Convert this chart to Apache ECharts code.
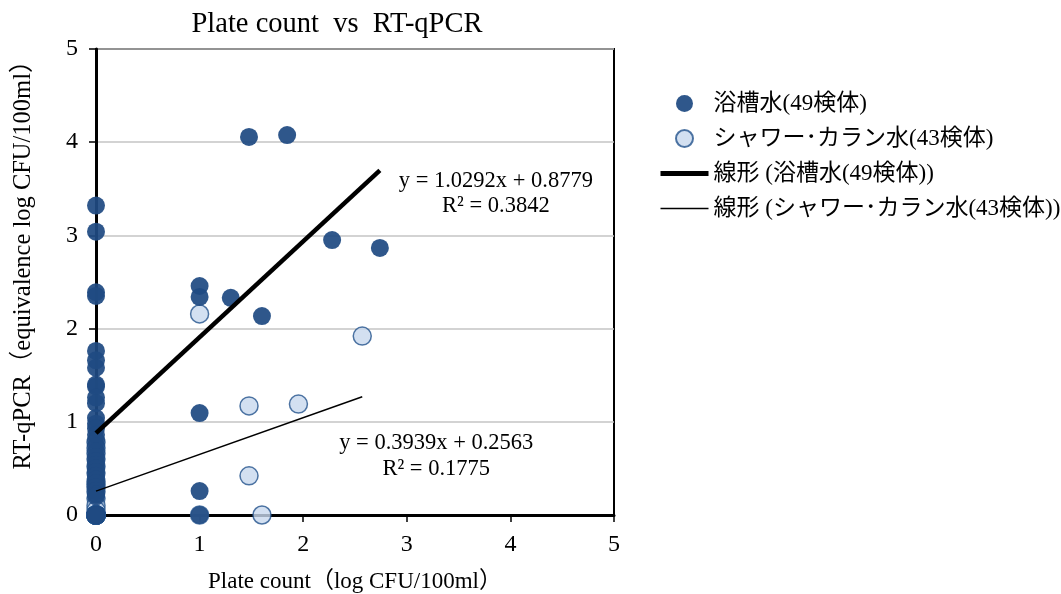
<!DOCTYPE html>
<html>
<head>
<meta charset="utf-8">
<script src="https://cdn.jsdelivr.net/npm/echarts@6/dist/echarts.min.js"></script>
<style>
  html, body { margin: 0; padding: 0; background: #fff; }
  #chart { width: 1061px; height: 594px; }
</style>
</head>
<body>
<div id="chart"></div>
<script>
// Bath water samples (浴槽水, 49): plate count (log CFU/100ml) vs RT-qPCR
const bathX = [1.477, 1.845, 2.279, 2.74, 1, 1, 1.301, 1.602, 1, 1, 1,
  0, 0, 0, 0, 0, 0, 0, 0, 0, 0, 0, 0, 0, 0, 0, 0, 0, 0, 0, 0,
  0, 0, 0, 0, 0, 0, 0, 0, 0, 0, 0, 0, 0, 0, 0, 0, 0, 0];
const bathY = [4.056, 4.077, 2.95, 2.865, 2.457, 2.34, 2.33, 2.135, 1.094, 0.257, 0,
  3.32, 3.04, 2.39, 2.35, 1.76, 1.66, 1.58, 1.40, 1.38, 1.26, 1.20, 1.04, 0.98, 0.93,
  0.86, 0.80, 0.74, 0.68, 0.62, 0.58, 0.54, 0.50, 0.46, 0.42, 0.38, 0.34, 0.30, 0.26,
  0.22, 0.20, 0, 0, 0, 0, 0, 0, 0, 0];

// Shower / faucet water samples (シャワー・カラン水, 43)
const showerX = [1, 2.57, 1.477, 1.954, 1.477, 1.602, 1,
  0, 0, 0, 0, 0, 0, 0, 0, 0, 0, 0, 0, 0, 0, 0, 0, 0, 0,
  0, 0, 0, 0, 0, 0, 0, 0, 0, 0, 0, 0, 0, 0, 0, 0, 0, 0];
const showerY = [2.157, 1.92, 1.17, 1.19, 0.42, 0, 0,
  0.78, 0.72, 0.66, 0.60, 0.52, 0.45, 0.36, 0.33, 0.30, 0.25, 0.18, 0.10, 0.05,
  0, 0, 0, 0, 0, 0, 0, 0, 0, 0, 0, 0, 0, 0, 0, 0, 0, 0, 0, 0, 0, 0, 0];

// Linear fits as reported: [slope, intercept, R², x range end]
const bathFit = [1.0292, 0.8779, 0.3842, 2.74];
const showerFit = [0.3939, 0.2563, 0.1775, 2.57];

const seriesNames = ['浴槽水(49検体)', 'シャワー･カラン水(43検体)',
  '線形 (浴槽水(49検体))', '線形 (シャワー･カラン水(43検体))'];
const axisTicks = [0, 1, 2, 3, 4, 5];

const zip = (xs, ys) => xs.map((x, i) => [x, ys[i]]);
const fitLine = f => [[0, f[1]], [f[3], f[0] * f[3] + f[1]]];
const eqText = f => 'y = ' + f[0].toFixed(4) + 'x + ' + f[1].toFixed(4) + '\nR² = ' + f[2].toFixed(4);

const serif = '"Liberation Serif", "Times New Roman", "Noto Sans CJK JP", serif';
const mixed = '"Liberation Serif", "Noto Sans CJK JP", serif';

const chart = echarts.init(document.getElementById('chart'), null, { renderer: 'canvas' });

chart.setOption({
  animation: false,
  backgroundColor: '#fff',
  title: {
    text: 'Plate count  vs  RT-qPCR',
    left: 332, top: 5, textAlign: 'center',
    textStyle: { fontFamily: serif, fontSize: 28.5, fontWeight: 'normal', color: '#000' }
  },
  legend: {
    orient: 'vertical',
    left: 658, top: 92, padding: 0,
    itemWidth: 48, itemHeight: 17, itemGap: 12,
    textStyle: { fontFamily: mixed, fontSize: 23, color: '#000' },
    data: [
      { name: seriesNames[0] },
      { name: seriesNames[1] },
      { name: seriesNames[2], itemStyle: { opacity: 0 }, lineStyle: { color: '#000', width: 5 } },
      { name: seriesNames[3], itemStyle: { opacity: 0 }, lineStyle: { color: '#000', width: 1.5 } }
    ]
  },
  grid: {
    left: 96, right: 447, top: 49, bottom: 79,
    outerBoundsMode: 'none', containLabel: false,
    show: true, borderColor: '#000', borderWidth: 2, backgroundColor: 'transparent'
  },
  xAxis: {
    type: 'value', min: axisTicks[0], max: axisTicks[axisTicks.length - 1], interval: 1,
    name: 'Plate count（log CFU/100ml）', nameLocation: 'middle', nameGap: 55,
    nameTextStyle: { fontFamily: mixed, fontSize: 23, color: '#000' },
    axisLine: { onZero: false, lineStyle: { color: '#000', width: 3 } },
    axisTick: { show: true, length: 7, lineStyle: { color: '#000', width: 1.5 } },
    axisLabel: { fontFamily: serif, fontSize: 24, color: '#000', margin: 18 },
    splitLine: { show: false }
  },
  yAxis: {
    type: 'value', min: axisTicks[0], max: axisTicks[axisTicks.length - 1], interval: 1,
    name: 'RT-qPCR（equivalence log CFU/100ml）', nameLocation: 'middle', nameGap: 60, nameRotate: 90,
    nameTextStyle: { fontFamily: mixed, fontSize: 24.5, color: '#000', padding: [0, 0, 0, 46] },
    axisLine: { show: true, onZero: false, lineStyle: { color: '#000', width: 3 } },
    axisTick: { show: true, length: 7, lineStyle: { color: '#000', width: 1.5 } },
    axisLabel: { fontFamily: serif, fontSize: 24, color: '#000', margin: 18 },
    splitLine: { show: true, lineStyle: { color: '#c4c4c4', width: 1.5 } }
  },
  series: [
    {
      name: seriesNames[0], type: 'scatter', symbol: 'circle', symbolSize: 18, z: 4,
      itemStyle: { color: '#1f4a82', opacity: 0.93 },
      data: zip(bathX, bathY)
    },
    {
      name: seriesNames[1], type: 'scatter', symbol: 'circle', symbolSize: 18, z: 3,
      itemStyle: { color: '#c8d8ed', borderColor: '#23528c', borderWidth: 1.5 },
      data: zip(showerX, showerY)
    },
    {
      name: seriesNames[2], type: 'line', symbol: 'none', z: 5,
      lineStyle: { color: '#000', width: 4.5 },
      itemStyle: { color: '#000' },
      data: fitLine(bathFit),
      endLabel: {
        show: true, formatter: () => eqText(bathFit), align: 'center',
        offset: [108, 23], fontFamily: serif, fontSize: 22.5, color: '#000', lineHeight: 25
      }
    },
    {
      name: seriesNames[3], type: 'line', symbol: 'none', z: 5,
      lineStyle: { color: '#000', width: 1.5 },
      itemStyle: { color: '#000' },
      data: fitLine(showerFit),
      endLabel: {
        show: true, formatter: () => eqText(showerFit), align: 'center',
        offset: [66, 59], fontFamily: serif, fontSize: 22.5, color: '#000', lineHeight: 26
      }
    }
  ]
});
</script>
</body>
</html>
